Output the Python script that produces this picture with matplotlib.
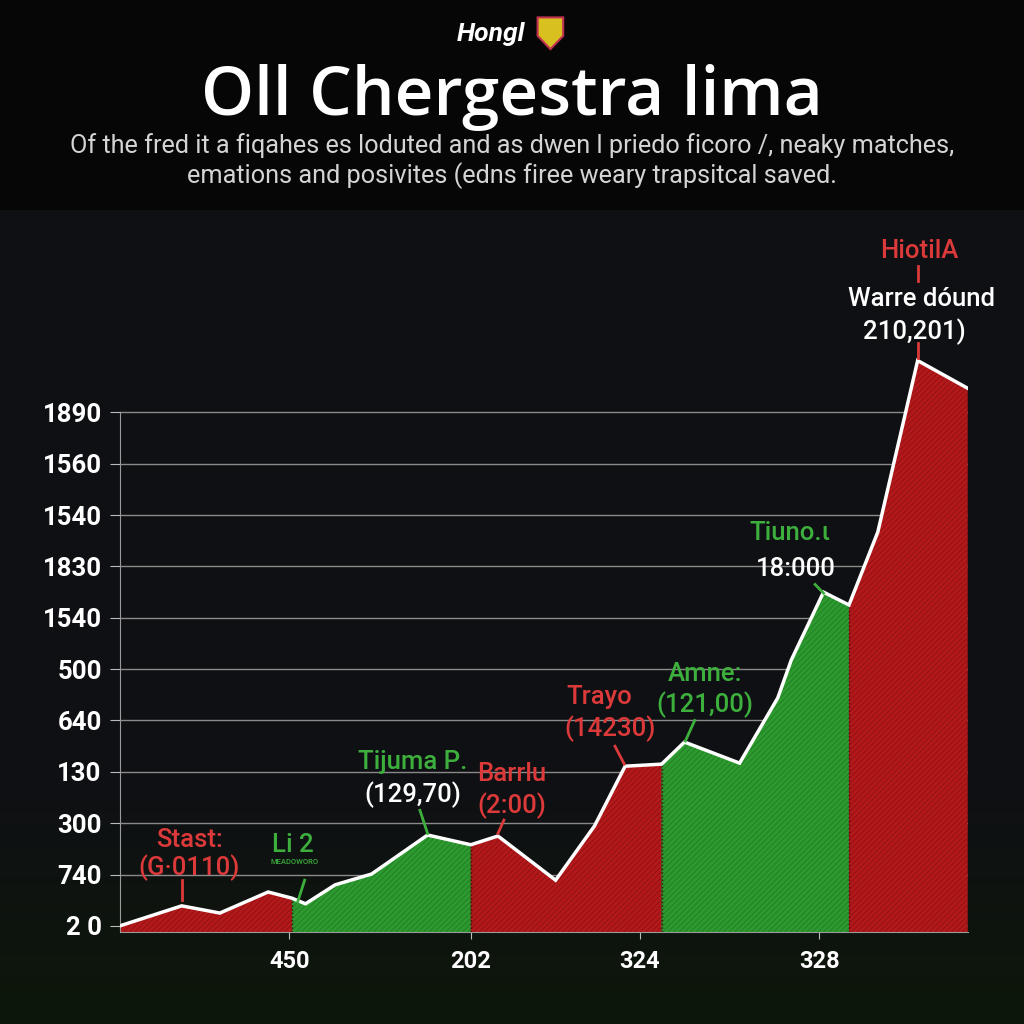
import matplotlib
matplotlib.use("Agg")
import matplotlib.pyplot as plt
import numpy as np
from matplotlib.patches import Polygon

plt.rcParams['font.family'] = ['Roboto', 'DejaVu Sans']
plt.rcParams['hatch.linewidth'] = 0.6

# Data (x on a 0-100 scale, y in gridline units)
x_vals = [0.0, 7.3, 11.8, 17.5, 20.3, 21.9, 25.4, 29.7, 36.3, 41.4, 44.6, 51.4,
          56.0, 59.6, 63.9, 66.6, 73.1, 77.6, 79.2, 83.0, 86.0, 89.4, 94.1, 100.0]
y_vals = [0.0, 0.39, 0.25, 0.66, 0.54, 0.43, 0.80, 1.01, 1.77, 1.58, 1.75, 0.89,
          1.95, 3.11, 3.15, 3.58, 3.17, 4.44, 5.18, 6.50, 6.25, 7.67, 11.01, 10.47]
seg_bounds = [0, 4, 9, 14, 20, 23]          # index ranges of colour segments
seg_colors = ['red', 'green', 'red', 'green', 'red']

y_tick_labels = ['2 0', '740', '300', '130', '640', '500', '1540', '1830', '1540', '1560', '1890']
x_tick_pos = [20.0, 41.4, 61.3, 82.5]
x_tick_labels = ['450', '202', '324', '328']

RED = '#b3191b'
GREEN = '#2c9a2e'
RED_TXT = '#dc3a3a'
GREEN_TXT = '#3daf3d'
fills = {'red': (RED, '#8e1012'), 'green': (GREEN, '#237a25')}

fig = plt.figure(figsize=(10.24, 10.24), dpi=100)

# background gradient
bg = fig.add_axes([0, 0, 1, 1], zorder=-5)
rows = np.linspace(0, 1, 1024)
img = np.zeros((1024, 1, 3))
top = np.array([0.025, 0.025, 0.03])
mid = np.array([0.06, 0.065, 0.075])
low = np.array([0.05, 0.09, 0.04])
for i, r in enumerate(rows):
    if r < 0.205:
        img[i, 0] = top
    elif r < 0.78:
        img[i, 0] = mid
    else:
        t = (r - 0.78) / 0.22
        img[i, 0] = mid * (1 - t) + low * t
bg.imshow(img, aspect='auto', extent=[0, 1, 0, 1])
bg.axis('off')

# header
fig.text(0.479, 0.967, 'Hongl', color='white', fontsize=19, fontweight='bold',
         fontstyle='italic', ha='center', va='center')
shield = Polygon([[0.525, 0.983], [0.550, 0.983], [0.550, 0.965], [0.5375, 0.952], [0.525, 0.965]],
                 closed=True, facecolor='#d8c020', edgecolor='#c03050', lw=1.5, transform=fig.transFigure)
fig.patches.append(shield)
fig.text(0.4995, 0.905, 'Oll Chergestra lima', color='white', fontsize=48.5, fontweight='semibold',
         family=['Open Sans', 'DejaVu Sans'], ha='center', va='center')
fig.text(0.5, 0.858, 'Of the fred it a fiqahes es loduted and as dwen l priedo ficoro /, neaky matches,',
         color='#d4d4d4', fontsize=18.2, ha='center', va='center')
fig.text(0.5, 0.829, 'emations and posivites (edns firee weary trapsitcal saved.',
         color='#d4d4d4', fontsize=18.2, ha='center', va='center')

ax = fig.add_axes([0.117, 0.0898, 0.828, 0.695])
ax.set_facecolor('none')
ax.set_xlim(0, 100)
ax.set_ylim(-0.12, 13.74)

x = np.array(x_vals)
y = np.array(y_vals)
for (a, b), c in zip(zip(seg_bounds[:-1], seg_bounds[1:]), seg_colors):
    fc, hc = fills[c]
    ax.fill_between(x[a:b + 1], -0.12, y[a:b + 1], facecolor=fc, edgecolor=hc,
                    hatch='//////', lw=0, zorder=2)
for i in seg_bounds[1:-1]:
    ax.plot([x[i], x[i]], [-0.12, y[i]], color='#401010', lw=1, ls=':', zorder=3)
ax.plot(x, y, color='white', lw=2.5, zorder=4, solid_joinstyle='miter')

ax.set_yticks(range(len(y_tick_labels)))
ax.set_yticklabels(y_tick_labels)
ax.set_xticks(x_tick_pos)
ax.set_xticklabels(x_tick_labels)
ax.tick_params(axis='y', colors='#bbbbbb', labelcolor='white', labelsize=18.5, length=7, pad=6)
ax.tick_params(axis='x', colors='#bbbbbb', labelcolor='white', labelsize=17, length=5, pad=8)
for lab in ax.get_yticklabels() + ax.get_xticklabels():
    lab.set_fontweight('bold')
ax.grid(axis='y', color='#8a8a8a', lw=1, zorder=1)
for s in ['top', 'right']:
    ax.spines[s].set_visible(False)
ax.spines['left'].set_color('#9a9a9a')
ax.spines['bottom'].set_color('#9a9a9a')
ax.spines['left'].set_bounds(-0.12, 10)

# annotations
def label(xp, yp, txt, col, size=18.5):
    ax.text(xp, yp, txt, color=col, fontsize=size, fontweight='medium',
            ha='center', va='center', zorder=6)

def tick(x0, y0, x1, y1, col):
    ax.plot([x0, x1], [y0, y1], color=col, lw=2, zorder=5)

label(8.2, 1.67, 'Stast:', RED_TXT)
label(8.2, 1.13, '(G·0110)', RED_TXT)
tick(7.3, 0.89, 7.3, 0.5, RED_TXT)

label(20.4, 1.57, 'Li 2', GREEN_TXT)
label(20.6, 1.25, 'MEADOWORO', GREEN_TXT, size=5.5)
tick(21.8, 0.89, 21.0, 0.48, GREEN_TXT)

label(34.5, 3.2, 'Tijuma P.', GREEN_TXT)
label(34.5, 2.55, '(129,70)', 'white')
tick(35.4, 2.25, 36.3, 1.8, GREEN_TXT)

label(46.2, 2.95, 'Barrlu', RED_TXT)
label(46.2, 2.35, '(2:00)', RED_TXT)
tick(45.3, 2.06, 44.6, 1.8, RED_TXT)

label(56.6, 4.45, 'Trayo', RED_TXT)
label(57.8, 3.85, '(14230)', RED_TXT)
tick(58.4, 3.5, 59.5, 3.15, RED_TXT)

label(69.0, 4.9, 'Amne:', GREEN_TXT)
label(69.0, 4.3, '(121,00)', GREEN_TXT)
tick(67.8, 4.0, 66.7, 3.6, GREEN_TXT)

label(79.0, 7.65, 'Tiuno.ι', GREEN_TXT)
label(79.7, 6.95, '18:000', 'white')
tick(82.0, 6.65, 83.0, 6.48, GREEN_TXT)

label(94.3, 13.15, 'HiotilA', RED_TXT)
tick(94.1, 12.85, 94.1, 12.55, RED_TXT)
label(94.5, 12.2, 'Warre dóund', 'white')
label(93.7, 11.57, '210,201)', 'white')
tick(94.1, 11.35, 94.1, 11.05, RED_TXT)

fig.savefig('out.png', dpi=100, facecolor='black')
